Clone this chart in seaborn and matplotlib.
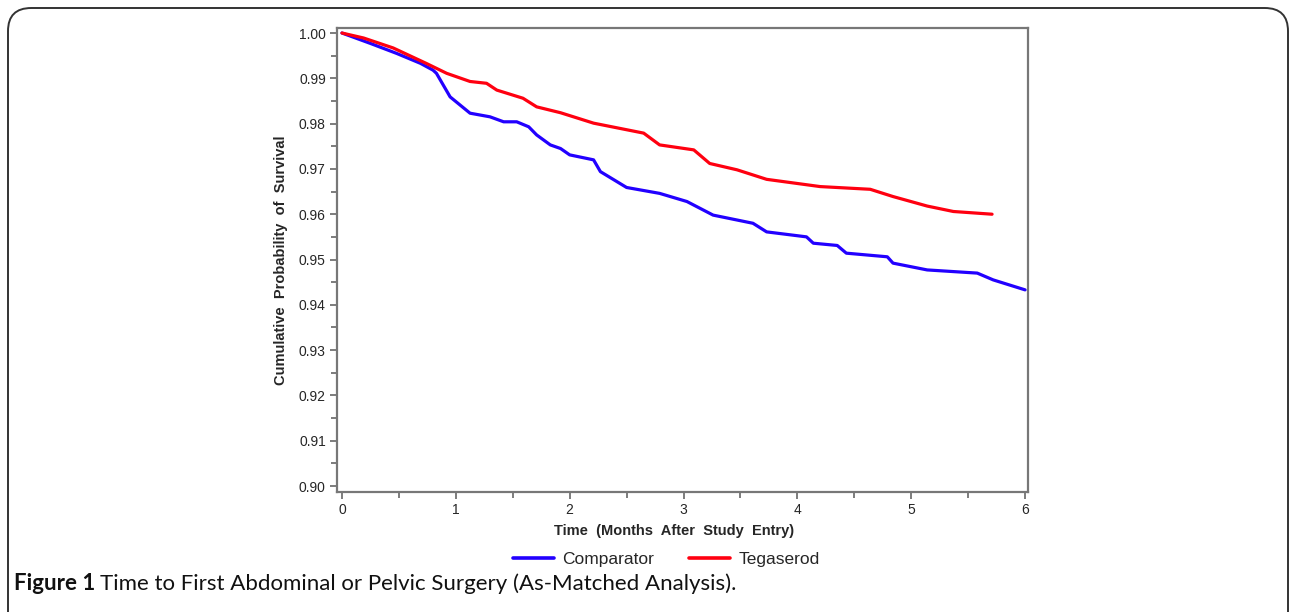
import matplotlib
matplotlib.use("Agg")
import matplotlib.pyplot as plt
from matplotlib.patches import FancyBboxPatch
from matplotlib.lines import Line2D
import seaborn as sns
import pandas as pd

# values (months, survival probability)
comp_t = [0.0, 0.25, 0.48, 0.69, 0.80, 0.83, 0.95, 1.125, 1.30, 1.42, 1.535, 1.64, 1.71,
          1.83, 1.92, 2.0, 2.21, 2.27, 2.50, 2.79, 3.03, 3.26, 3.61, 3.73, 4.08, 4.14,
          4.35, 4.43, 4.79, 4.84, 5.14, 5.58, 5.72, 6.0]
comp_s = [1.000, 0.9977, 0.9955, 0.9933, 0.9918, 0.9911, 0.9859, 0.9823, 0.9815, 0.9804,
          0.9804, 0.9793, 0.9775, 0.9753, 0.9745, 0.9731, 0.9720, 0.9694, 0.9659, 0.9646,
          0.9628, 0.9598, 0.9580, 0.9561, 0.9550, 0.9536, 0.9531, 0.9514, 0.9506, 0.9492,
          0.9477, 0.9470, 0.9455, 0.9433]
teg_t = [0.0, 0.19, 0.45, 0.74, 0.92, 1.125, 1.27, 1.36, 1.59, 1.71, 1.92, 2.21, 2.65,
         2.79, 3.09, 3.23, 3.47, 3.73, 4.20, 4.64, 4.84, 5.14, 5.37, 5.71]
teg_s = [1.000, 0.9989, 0.9967, 0.9933, 0.9911, 0.9893, 0.9889, 0.9874, 0.9856, 0.9837,
         0.9824, 0.9801, 0.9779, 0.9753, 0.9742, 0.9712, 0.9698, 0.9677, 0.9661, 0.9655,
         0.9639, 0.9618, 0.9606, 0.9600]

x_ticks = [0, 1, 2, 3, 4, 5, 6]
y_ticks = [0.90, 0.91, 0.92, 0.93, 0.94, 0.95, 0.96, 0.97, 0.98, 0.99, 1.00]

sns.set_style("ticks")
plt.rcParams['font.family'] = ['Liberation Sans', 'DejaVu Sans']

fig = plt.figure(figsize=(12.92, 6.12), dpi=100)
ax = fig.add_axes([0.2608, 0.1961, 0.5349, 0.7581])

df_c = pd.DataFrame({'t': comp_t, 's': comp_s})
df_t = pd.DataFrame({'t': teg_t, 's': teg_s})
sns.lineplot(data=df_c, x='t', y='s', ax=ax, color='#2200ff', linewidth=2.3)
sns.lineplot(data=df_t, x='t', y='s', ax=ax, color='#ff0010', linewidth=2.3)

ax.set_xlim(-0.044, 6.026)
ax.set_ylim(0.89868, 1.0011)
ax.set_xticks(x_ticks)
ax.set_xticks([0.5, 1.5, 2.5, 3.5, 4.5, 5.5], minor=True)
ax.set_yticks(y_ticks)
ax.set_yticks([v + 0.005 for v in y_ticks[:-1]], minor=True)
ax.set_yticklabels([f'{v:.2f}' for v in y_ticks])
ax.tick_params(axis='both', which='both', direction='out', color='#666666', width=1.2,
               labelsize=10, pad=3)
ax.tick_params(which='major', length=5)
ax.tick_params(which='minor', length=4)
for sp in ax.spines.values():
    sp.set_visible(True)
    sp.set_color('#777777')
    sp.set_linewidth(1.6)

ax.set_xlabel('Time  (Months  After  Study  Entry)', fontsize=10.5, fontweight='bold')
ax.xaxis.set_label_coords(0.4875, -0.068)
ax.set_ylabel('Cumulative  Probability  of  Survival', fontsize=10.5, fontweight='bold', labelpad=8)

handles = [Line2D([], [], color='#2200ff', linewidth=2.6),
           Line2D([], [], color='#ff0010', linewidth=2.6)]
fig.legend(handles, ['Comparator', 'Tegaserod'], loc='center', bbox_to_anchor=(0.5155, 0.0866),
           ncol=2, frameon=False, fontsize=12.5, handlelength=2.4, columnspacing=2.0,
           handletextpad=0.45)

# outer rounded frame
frame = FancyBboxPatch((8 / 1292, -0.05), 1280 / 1292, (612 - 8) / 612 + 0.05,
                       boxstyle='round,pad=0,rounding_size=0.018', transform=fig.transFigure,
                       fill=False, edgecolor='#333333', linewidth=1.4, mutation_aspect=2.1)
fig.patches.append(frame)

cap_font = ['Lato', 'DejaVu Sans']
cap_y = 1 - 584 / 612
t1 = fig.text(14 / 1292, cap_y, 'Figure 1', fontsize=16, fontweight='bold',
              va='center', ha='left', family=cap_font, color='#111111')
fig.canvas.draw()
bb = t1.get_window_extent()
fig.text((bb.x1 + 5) / 1292, cap_y, 'Time to First Abdominal or Pelvic Surgery (As-Matched Analysis).',
         fontsize=16, va='center', ha='left', family=cap_font, color='#111111')

fig.savefig('out.png', dpi=100)
